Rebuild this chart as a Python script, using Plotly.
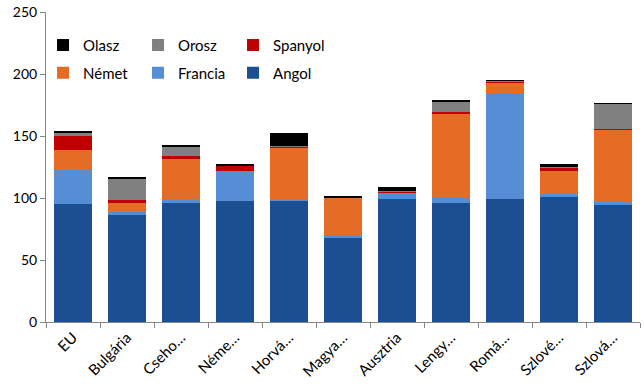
import plotly.graph_objects as go

categories = ["EU", "Bulgária", "Cseho…", "Néme…", "Horvá…", "Magya…",
              "Ausztria", "Lengy…", "Romá…", "Szlové…", "Szlová…"]
angol   = [95, 86, 96, 97.5, 98, 68.5, 99.5, 96, 99.5, 100.5, 94.5]
francia = [27.5, 3, 3.5, 24.5, 0.5, 0.5, 5, 4, 84.5, 2.5, 2.5]
nemet   = [16, 7.5, 32, 0, 42.5, 31, 0, 68.5, 9.5, 19, 58.5]
spanyol = [11.5, 1.5, 2, 4, 0.3, 0.3, 1, 1, 0.8, 2.5, 0.5]
orosz   = [3, 18, 8, 0.5, 0.3, 0.3, 0.3, 8, 0.2, 0.2, 20]
olasz   = [1, 1, 0.6, 1, 11, 0.7, 3, 0.8, 0.6, 3, 0.5]

series = [
    ("Angol", angol, "#1B4F91", "legend2"),
    ("Francia", francia, "#558ED5", "legend2"),
    ("Német", nemet, "#E46C25", "legend2"),
    ("Spanyol", spanyol, "#C00000", "legend"),
    ("Orosz", orosz, "#808080", "legend"),
    ("Olasz", olasz, "#000000", "legend"),
]

fig = go.Figure()
for name, vals, color, leg in series:
    fig.add_trace(go.Bar(name=name, x=categories, y=vals, marker_color=color,
                         marker_line_width=0, legend=leg))

font = dict(family="Lato, Carlito, Open Sans, sans-serif", size=15, color="#000000")
xfont = dict(family="Lato, Carlito, Open Sans, sans-serif", size=15, color="#000000")
yfont = dict(family="Lato, Carlito, Open Sans, sans-serif", size=14, color="#000000")
legcommon = dict(orientation="h", traceorder="reversed", xanchor="left", yanchor="middle",
                 x=-0.005, entrywidth=50, bgcolor="rgba(0,0,0,0)", font=font,
                 itemwidth=30)

fig.update_layout(
    barmode="stack",
    bargap=0.28,
    width=644, height=386,
    margin=dict(l=46, r=4, t=12, b=64),
    paper_bgcolor="white", plot_bgcolor="white",
    font=font,
    legend=dict(y=0.893, **legcommon),
    legend2=dict(y=0.803, **legcommon),
    xaxis=dict(showline=True, linecolor="#868686", linewidth=1, ticks="outside",
               tickson="boundaries", ticklen=5, tickcolor="#868686", tickangle=-45,
               showgrid=False, tickfont=xfont, automargin=False),
    yaxis=dict(range=[0, 250], dtick=50, showline=True, linecolor="#868686", linewidth=1,
               ticks="outside", ticklen=5, tickcolor="#868686", showgrid=False,
               zeroline=False, tickfont=yfont, automargin=False),
)

fig.write_html("out.html", config={"displayModeBar": False})
with open("out.html", encoding="utf-8") as f:
    html = f.read()
html = html.replace("<head>", "<head><style>html,body{margin:0;padding:0;overflow:hidden;}</style>", 1)
with open("out.html", "w", encoding="utf-8") as f:
    f.write(html)
